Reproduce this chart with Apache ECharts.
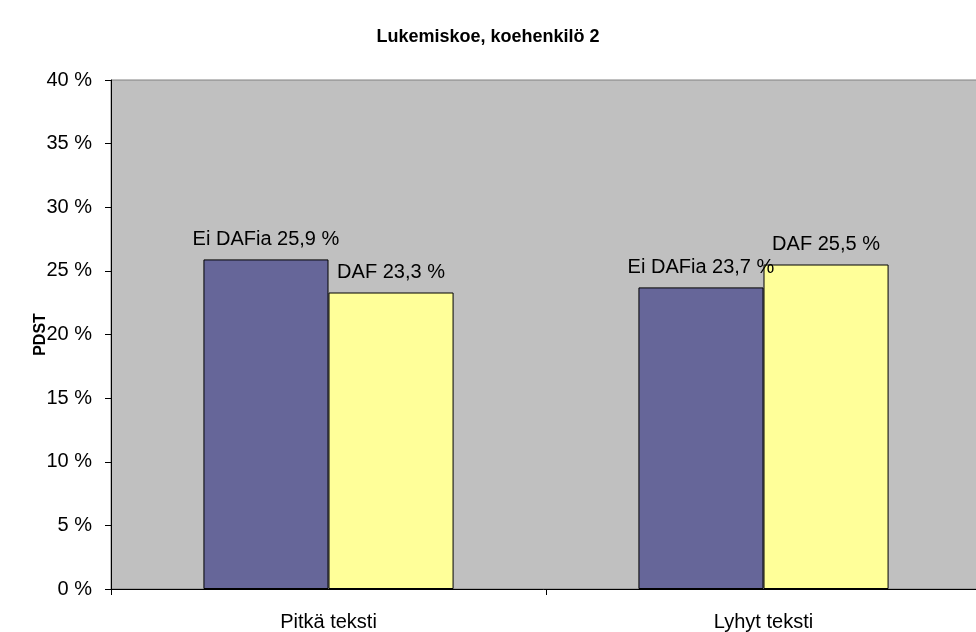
<!DOCTYPE html>
<html><head><meta charset="utf-8">
<script src="https://cdn.jsdelivr.net/npm/echarts@6/dist/echarts.min.js"></script>
<style>html,body{margin:0;padding:0;background:#fff}#c{width:976px;height:632px}</style>
</head><body><div id="c"></div>
<script>
const categories = ['Pitkä teksti', 'Lyhyt teksti'];
const seriesNames = ['Ei DAFia', 'DAF'];
const eiDafValues = [25.9, 23.7];
const dafValues = [23.3, 25.5];
const yTicks = [0, 5, 10, 15, 20, 25, 30, 35, 40];

const fmt = v => String(v).replace('.', ',');
const font = 'Liberation Sans, Arial, sans-serif';
const chart = echarts.init(document.getElementById('c'), null, {renderer: 'canvas'});
function labelFor(name) {
  return {
    show: true, position: 'top', distance: 10, color: '#000', fontSize: 20, fontFamily: font,
    formatter: p => name + ' ' + fmt(p.value) + ' %'
  };
}
chart.setOption({
  animation: false,
  title: {
    text: 'Lukemiskoe, koehenkilö 2', left: 'center', top: 23,
    textStyle: {fontSize: 18, fontWeight: 'bold', fontFamily: font, color: '#000'}
  },
  grid: {left: 111, width: 870, top: 80, bottom: 43, outerBoundsMode: 'none', show: true, backgroundColor: '#c0c0c0', borderColor: '#808080', borderWidth: 1},
  xAxis: {
    type: 'category', data: categories,
    axisLine: {lineStyle: {color: '#000', width: 1}},
    axisTick: {show: true, length: 6, lineStyle: {color: '#000'}},
    axisLabel: {color: '#000', fontSize: 20, fontFamily: font, margin: 23}
  },
  yAxis: {
    type: 'value', min: yTicks[0], max: yTicks[yTicks.length - 1], interval: 5,
    name: 'PDST', nameLocation: 'middle', nameGap: 62, nameRotate: 90, nameMoveOverlap: false,
    nameTextStyle: {fontSize: 16, fontWeight: 'bold', fontFamily: font, color: '#000'},
    axisLine: {show: true, lineStyle: {color: '#000', width: 1}},
    axisTick: {show: true, length: 6, lineStyle: {color: '#000'}},
    splitLine: {show: false},
    axisLabel: {color: '#000', fontSize: 20, fontFamily: font, margin: 19, formatter: v => v + ' %'}
  },
  series: [
    {name: seriesNames[0], type: 'bar', data: eiDafValues, barGap: '0%', barCategoryGap: '42.5%',
      itemStyle: {color: '#666699', borderColor: '#000', borderWidth: 1}, label: labelFor(seriesNames[0])},
    {name: seriesNames[1], type: 'bar', data: dafValues, barGap: '0%', barCategoryGap: '42.5%',
      itemStyle: {color: '#ffff99', borderColor: '#000', borderWidth: 1}, label: labelFor(seriesNames[1])}
  ]
});
</script></body></html>
